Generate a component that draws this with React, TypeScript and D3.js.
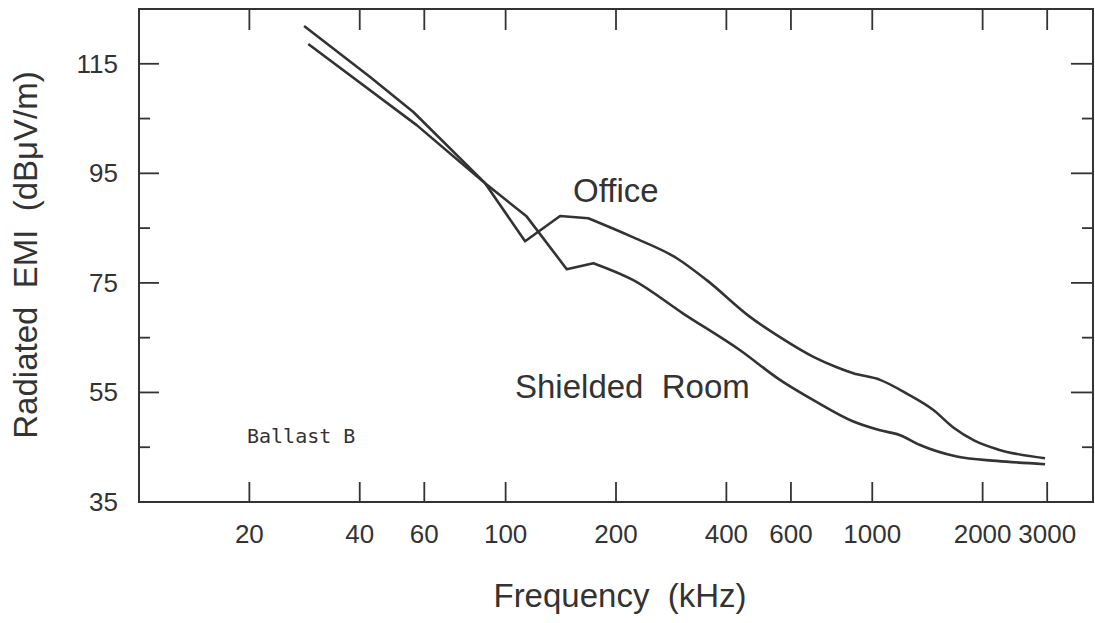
import React, { useEffect, useRef } from "react";
import * as d3 from "d3";

// frequency in kHz, level in dBuV/m
const officeFreq = [28.2, 42.7, 56.0, 87.9, 113, 140.8, 168, 223, 293, 353.6, 464, 560, 691, 800, 888, 1050, 1242, 1468, 1664, 1900, 2200, 2960];
const officeLevel = [121.9, 112.6, 106.2, 93.2, 82.6, 87.2, 86.8, 83.3, 79.5, 75.5, 68.8, 65.1, 61.5, 59.6, 58.5, 57.3, 54.8, 51.8, 48.6, 46.2, 44.6, 43.0];

const shieldedFreq = [28.95, 57.2, 87.9, 114.2, 146.8, 173.5, 223, 305, 436, 560, 691, 888, 1050, 1191, 1350, 1700, 2185, 2960];
const shieldedLevel = [118.6, 103.8, 93.2, 87.1, 77.5, 78.6, 75.5, 69.4, 62.7, 57.3, 53.6, 49.7, 48.1, 47.2, 45.4, 43.3, 42.5, 41.9];

const xTicks = [20, 40, 60, 100, 200, 400, 600, 1000, 2000, 3000];
const yMajorTicks = [35, 55, 75, 95, 115];
const yMinorTicks = [45, 65, 85, 105];

const INK = "#333";
const SANS = "'Liberation Sans', Arial, Helvetica, sans-serif";

const App = () => {
    const svgRef = useRef<SVGSVGElement>(null);

    useEffect(() => {
        const width = 1095, height = 623;
        const left = 139, right = 1093, top = 9, bottom = 502;

        const svg = d3.select(svgRef.current)
            .attr("width", width)
            .attr("height", height);

        svg.selectAll("*").remove();

        const x = d3.scaleLog().domain([10, 4000]).range([left, right]);
        const y = d3.scaleLinear().domain([35, 125]).range([bottom, top]);

        // frame
        svg.append("rect")
            .attr("x", left)
            .attr("y", top)
            .attr("width", right - left)
            .attr("height", bottom - top)
            .attr("fill", "none")
            .attr("stroke", INK)
            .attr("stroke-width", 2);

        // inward ticks on all four sides
        const ticks = svg.append("g").attr("stroke", INK).attr("stroke-width", 1.8);
        xTicks.forEach(t => {
            ticks.append("line").attr("x1", x(t)).attr("x2", x(t)).attr("y1", bottom).attr("y2", bottom - 20);
            ticks.append("line").attr("x1", x(t)).attr("x2", x(t)).attr("y1", top).attr("y2", top + 21);
        });
        yMajorTicks.forEach(t => {
            ticks.append("line").attr("x1", left).attr("x2", left + 20).attr("y1", y(t)).attr("y2", y(t));
            ticks.append("line").attr("x1", right).attr("x2", right - 22).attr("y1", y(t)).attr("y2", y(t));
        });
        yMinorTicks.forEach(t => {
            ticks.append("line").attr("x1", left).attr("x2", left + 11).attr("y1", y(t)).attr("y2", y(t));
            ticks.append("line").attr("x1", right).attr("x2", right - 11).attr("y1", y(t)).attr("y2", y(t));
        });

        // tick labels
        svg.append("g")
            .selectAll("text")
            .data(xTicks)
            .enter()
            .append("text")
            .attr("x", d => x(d))
            .attr("y", 543)
            .attr("text-anchor", "middle")
            .attr("font-family", SANS)
            .attr("font-size", 26)
            .attr("fill", INK)
            .text(d => d);

        svg.append("g")
            .selectAll("text")
            .data(yMajorTicks)
            .enter()
            .append("text")
            .attr("x", 118)
            .attr("y", d => y(d) + 9)
            .attr("text-anchor", "end")
            .attr("font-family", SANS)
            .attr("font-size", 26)
            .attr("fill", INK)
            .text(d => d);

        // axis titles
        svg.append("text")
            .attr("x", 620)
            .attr("y", 607)
            .attr("text-anchor", "middle")
            .attr("font-family", SANS)
            .attr("font-size", 33)
            .attr("fill", INK)
            .style("white-space", "pre")
            .text("Frequency  (kHz)");

        svg.append("text")
            .attr("transform", "translate(37,255) rotate(-90)")
            .attr("text-anchor", "middle")
            .attr("font-family", SANS)
            .attr("font-size", 33)
            .attr("fill", INK)
            .style("white-space", "pre")
            .text("Radiated  EMI  (dBμV/m)");

        // curves: straight segments around the dips, smooth tail after the plateau
        const sharp = d3.line<[number, number]>()
            .x(d => x(d[0]))
            .y(d => y(d[1]))
            .curve(d3.curveLinear);
        const smooth = d3.line<[number, number]>()
            .x(d => x(d[0]))
            .y(d => y(d[1]))
            .curve(d3.curveMonotoneX);

        const office = officeFreq.map((f, i) => [f, officeLevel[i]] as [number, number]);
        const shielded = shieldedFreq.map((f, i) => [f, shieldedLevel[i]] as [number, number]);

        [[office, 6], [shielded, 5]].forEach(([s, k]: any) => {
            const d = sharp(s.slice(0, k + 1)) + (smooth(s.slice(k)) || "").replace(/^M/, "L");
            svg.append("path")
                .attr("d", d)
                .attr("fill", "none")
                .attr("stroke", INK)
                .attr("stroke-width", 2.6)
                .attr("stroke-linejoin", "round");
        });

        // annotations
        svg.append("text")
            .attr("x", 573)
            .attr("y", 202)
            .attr("font-family", SANS)
            .attr("font-size", 33)
            .attr("fill", INK)
            .text("Office");

        svg.append("text")
            .attr("x", 515)
            .attr("y", 398)
            .attr("font-family", SANS)
            .attr("font-size", 33)
            .attr("fill", INK)
            .style("white-space", "pre")
            .text("Shielded  Room");

        svg.append("text")
            .attr("x", 247)
            .attr("y", 443)
            .attr("font-family", "'DejaVu Sans Mono', 'Liberation Mono', monospace")
            .attr("font-size", 20)
            .attr("fill", INK)
            .text("Ballast B");
    }, []);

    return <svg ref={svgRef} style={{ position: "absolute", left: 0, top: 0, background: "#fff" }}></svg>;
};

export default App;
